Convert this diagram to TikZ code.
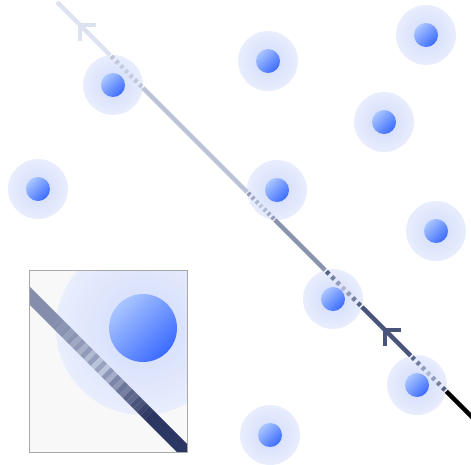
\documentclass[tikz,border=0pt]{standalone}
\usetikzlibrary{calc}

\definecolor{haloin}{HTML}{D0DAFB}
\definecolor{haloout}{HTML}{E9EEFD}
\definecolor{coretop}{HTML}{AAC6FF}
\definecolor{corebot}{HTML}{3B6BFF}
\definecolor{rayA}{HTML}{49547A}
\definecolor{rayB}{HTML}{8A93AE}
\definecolor{rayC}{HTML}{BCC3D7}
\definecolor{rayD}{HTML}{DDE2F0}
\definecolor{pale}{HTML}{C9D0E6}
\definecolor{boxline}{HTML}{A8A8A8}
\definecolor{boxfill}{HTML}{F8F8F8}
\definecolor{bandL}{HTML}{858EAD}
\definecolor{bandR}{HTML}{2C3662}
\definecolor{stripeA}{HTML}{C2C9E0}
\definecolor{stripeB}{HTML}{9AA2C2}

\tikzset{
  halo/.style={circle, minimum size=60pt, inner sep=0pt, inner color=haloin, outer color=haloout},
  core/.style={circle, minimum size=24pt, inner sep=0pt, top color=coretop, bottom color=corebot, shading angle=45},
  ray/.style={line width=4.5pt},
  chordtick/.style={line width=4.5pt},
  barb/.style={line width=4.5pt, line join=miter, line cap=butt},
  inset/.style={fill=boxfill, minimum width=157pt, minimum height=181pt, inner sep=0pt},
  band/.style={line width=13pt},
}

\begin{document}
\begin{tikzpicture}[x=1pt, y=-1pt]
\useasboundingbox (0,0) rectangle (471,464);

% scattering centres
\node[halo] (a) at (113,85) {};
\node[halo] (b) at (38,189) {};
\node[halo] (c) at (268,61) {};
\node[halo] (d) at (426,35) {};
\node[halo] (e) at (384,122) {};
\node[halo] (f) at (277,190) {};
\node[halo] (g) at (436,231) {};
\node[halo] (h) at (333,299) {};
\node[halo] (i) at (417,385) {};
\node[halo] (j) at (270,435) {};
\foreach \n in {a,b,c,d,e,f,g,h,i,j}
  \node[core] (\n core) at (\n) {};

% the ray, entering bottom right
\coordinate (start) at (57,2);
\coordinate (tipA) at (80,25);
\coordinate (a1) at (110.1,55.1);
\coordinate (a2) at (142.9,87.9);
\coordinate (f1) at (247.1,192.1);
\coordinate (f2) at (274.9,219.9);
\coordinate (h1) at (325.1,270.1);
\coordinate (h2) at (361.9,306.9);
\coordinate (tipB) at (385,330);
\coordinate (i1) at (410.7,355.7);
\coordinate (i2) at (446.3,391.3);
\coordinate (end) at (473,418);

\draw[ray, black] (end) -- (i2);
\draw[ray, rayA] (i1) -- (h2);
\draw[ray, rayB] (h1) -- (f2);
\draw[ray, rayC] (f1) -- (a2);
\draw[ray, rayD] (a1) -- (start);

% arrow marks on the ray
\draw[barb, rayA] ($(tipB)+(16,0)$) -- (tipB) -- ($(tipB)+(0,16)$);
\draw[barb, rayD] ($(tipA)+(16,0)$) -- (tipA) -- ($(tipA)+(0,16)$);

% dashed parts inside the halos
\foreach \p/\q/\c in {i1/i2/rayA, h1/h2/rayA, f1/f2/rayB, a1/a2/rayC}
  \foreach \k in {0,...,6} {
    \pgfmathsetmacro\lo{(\k+0.5)/7-0.035}
    \pgfmathsetmacro\hi{(\k+0.5)/7+0.035}
    \pgfmathtruncatemacro\amt{20+80*abs(2*(\k+0.5)/7-1)}
    \draw[chordtick, \c!\amt!pale] ($(\p)!\lo!(\q)$) -- ($(\p)!\hi!(\q)$);
  }

% close-up
\node[inset] (box) at (108.5,361.5) {};
\begin{scope}
  \clip (box.south west) rectangle (box.north east);
  \node[halo, minimum size=174pt] (zoomhalo) at (143,328) {};
  \node[core, minimum size=68pt] (zoomcore) at (zoomhalo) {};
  \coordinate (zl) at (20,286);
  \coordinate (z1) at (56.2,322.2);
  \coordinate (z2) at (148.8,414.8);
  \coordinate (zr) at (200,466);
  \draw[band, bandL] (zl) -- (z1);
  \draw[band, bandR] (z2) -- (zr);
  \foreach \k in {0,...,25} {
    \pgfmathsetmacro\lo{\k/26}
    \pgfmathsetmacro\hi{(\k+1)/26}
    \pgfmathtruncatemacro\amt{100*abs(2*(\k+0.5)/26-1)}
    \pgfmathtruncatemacro\odd{mod(\k,2)}
    \ifnum\k<13 \def\base{bandL}\else\def\base{bandR}\fi
    \ifnum\odd=1 \def\lit{stripeA}\else\def\lit{stripeB}\fi
    \draw[band, \base!\amt!\lit] ($(z1)!\lo!(z2)$) -- ($(z1)!\hi!(z2)$);
  }
\end{scope}
\draw[boxline, line width=1pt] (box.south west) rectangle (box.north east);
\end{tikzpicture}
\end{document}
